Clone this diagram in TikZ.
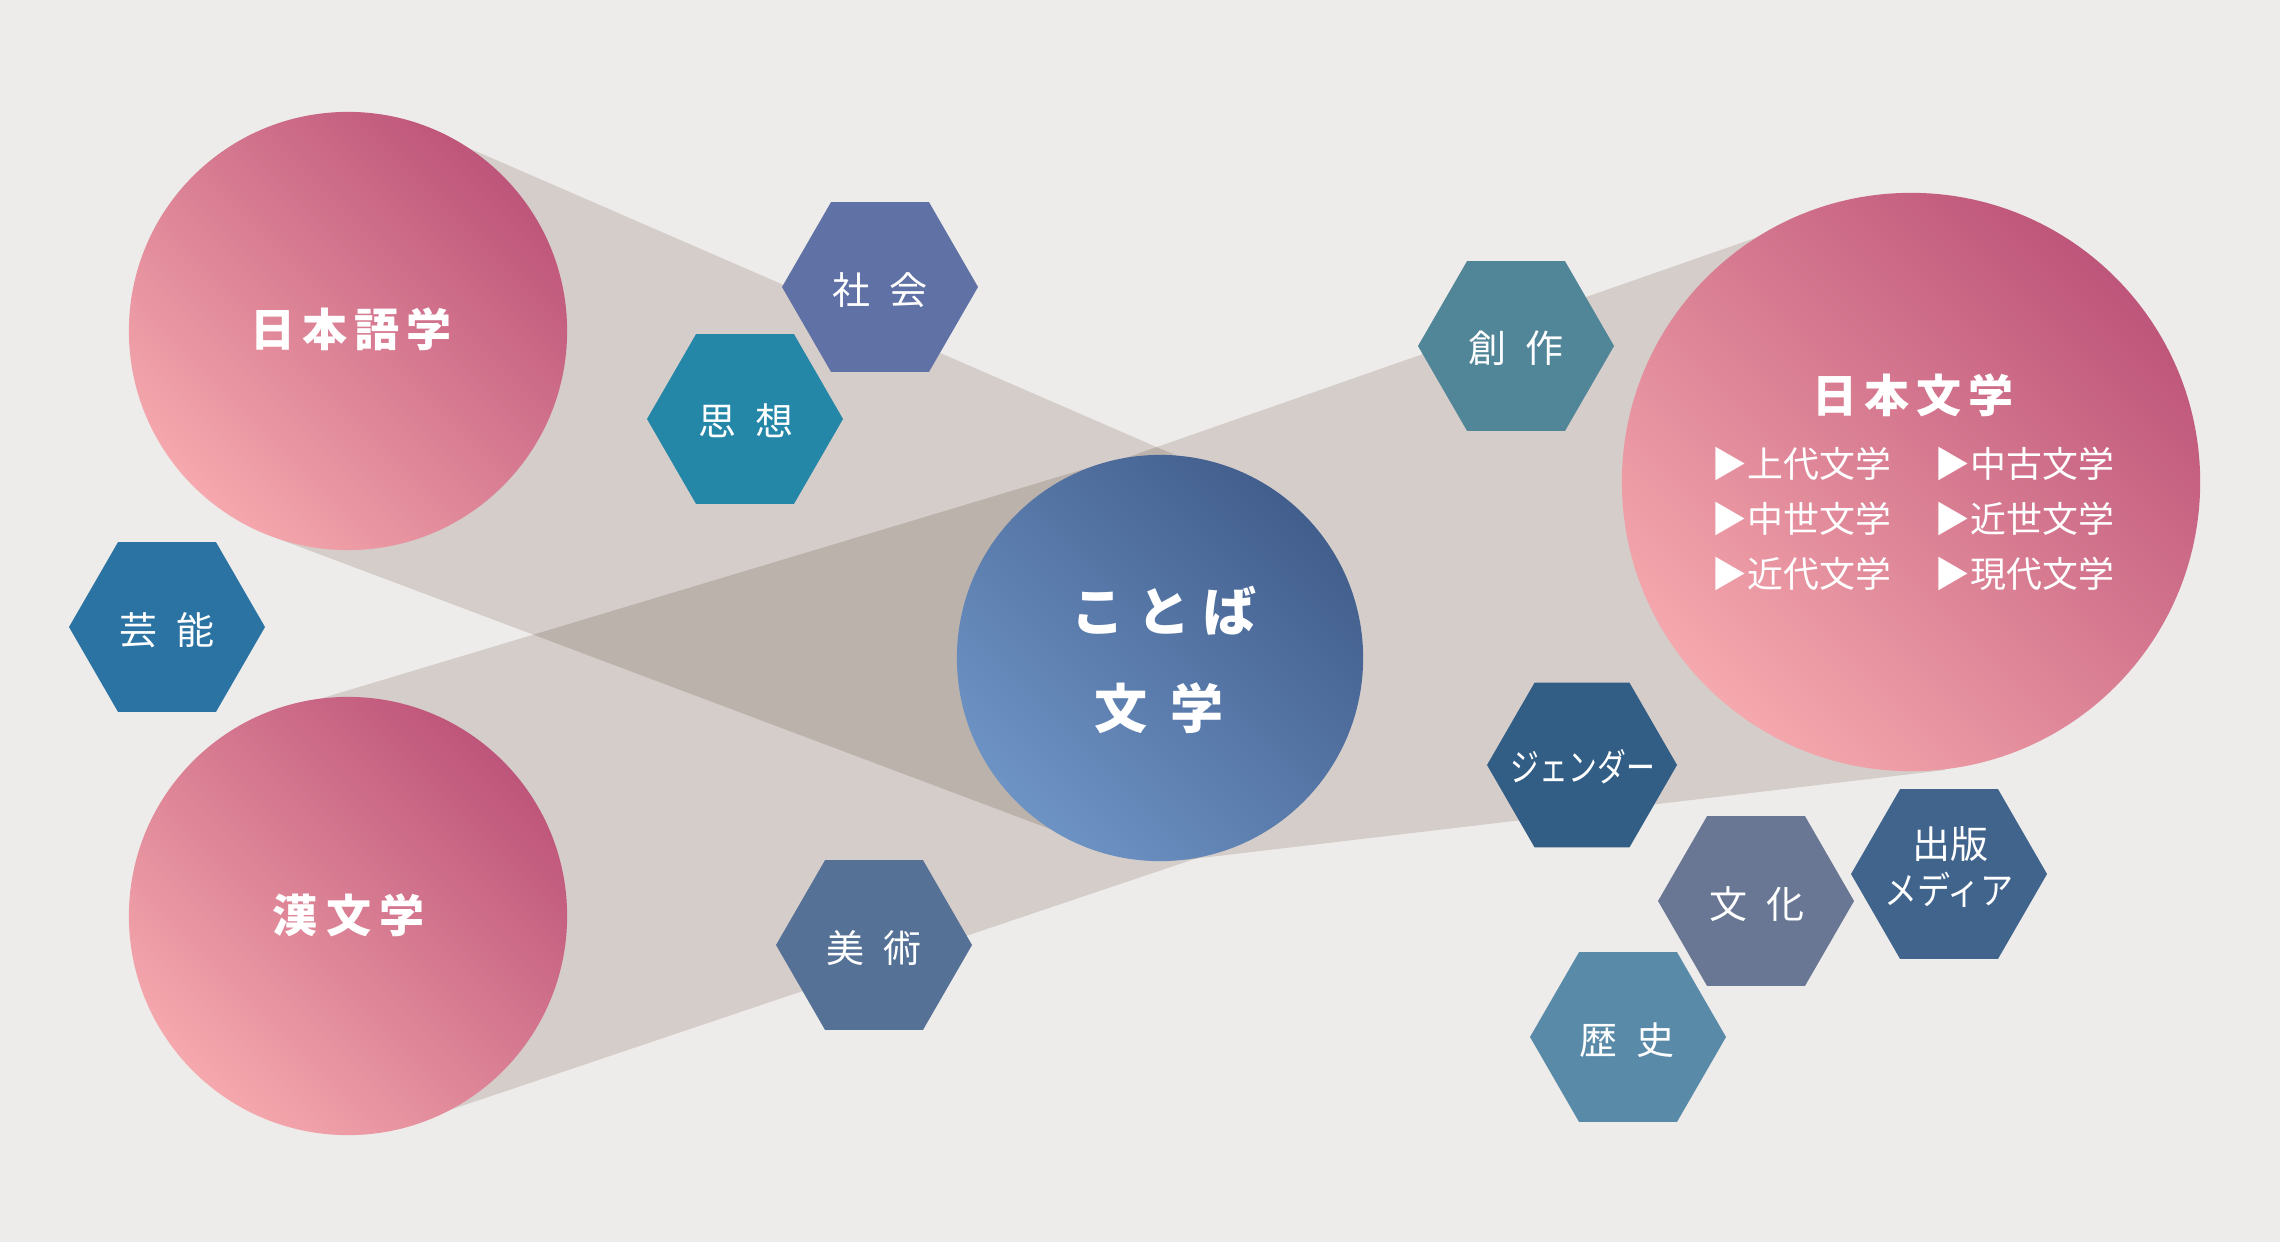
\documentclass[tikz,border=0pt]{standalone}
\usepackage{fontspec}
\setmainfont{Noto Sans CJK JP}
\definecolor{bgc}{HTML}{EDECEA}
\definecolor{beamc}{HTML}{D5CDC9}
\definecolor{ovlc}{HTML}{BBB2AC}
\definecolor{pinkL}{HTML}{F5A8AD}
\definecolor{pinkD}{HTML}{BE557A}
\definecolor{blueL}{HTML}{6D93C4}
\definecolor{blueD}{HTML}{425E8D}
\definecolor{hShakai}{HTML}{6071A5}
\definecolor{hShisou}{HTML}{2587A8}
\definecolor{hGeinou}{HTML}{2B73A3}
\definecolor{hBijutsu}{HTML}{557196}
\definecolor{hSousaku}{HTML}{518598}
\definecolor{hGender}{HTML}{325E86}
\definecolor{hBunka}{HTML}{697795}
\definecolor{hShuppan}{HTML}{41648C}
\definecolor{hRekishi}{HTML}{598AA7}
\newcommand\hexfill[4]{\fill[#4] (#1,#2) ++(#3,0) -- ++(-0.5*#3,0.866*#3) -- ++(-#3,0) -- ++(-0.5*#3,-0.866*#3) -- ++(0.5*#3,-0.866*#3) -- ++(#3,0) -- cycle;}
\newcommand\tk{\hspace{0.07cm}}
\tikzset{
  pinkball/.style={circle, inner sep=0pt, top color=pinkD, bottom color=pinkL, shading angle=-45},
  blueball/.style={circle, inner sep=0pt, top color=blueD, bottom color=blueL, shading angle=-45},
  balltext/.style={text=white, inner sep=0pt, font=\bfseries\fontsize{12.8pt}{15pt}\selectfont},
  kotoba/.style={text=white, inner sep=0pt, font=\bfseries\fontsize{15.1pt}{18pt}\selectfont},
  hexlbl/.style={text=white, inner sep=0pt, font=\fontsize{10.8pt}{13pt}\selectfont},
  listitem/.style={text=white, inner sep=0pt, anchor=west, font=\fontsize{10.2pt}{12pt}\selectfont}
}
\begin{document}
\begin{tikzpicture}[x=0.01cm,y=-0.01cm]
\useasboundingbox (0,0) rectangle (2280,1242);
\fill[bgc] (0,0) rectangle (2280,1242);
% beams
\def\beamA{(434,133) -- (1237,482) -- (1160,658) -- (1090,844) -- (271,536) -- (348,331) -- cycle}
\def\beamB{(286,709) -- (1101,464) -- (1160,658) -- (1224,849) -- (417,1121) -- (348,916) -- cycle}
\def\beamC{(1094,469) -- (1818,216) -- (1911,482) -- (1945,770) -- (1184,860) -- (1160,658) -- cycle}
\fill[beamc] \beamA;
\fill[beamc] \beamB;
\fill[beamc] \beamC;
\begin{scope}
  \clip \beamA;
  \fill[ovlc] \beamB;
  \fill[ovlc] \beamC;
\end{scope}
\begin{scope}
  \clip \beamB;
  \fill[ovlc] \beamC;
\end{scope}
% circles
\node[pinkball, minimum size=4.38cm] (nihongo) at (348,331) {};
\node[pinkball, minimum size=4.38cm] (kanbun) at (348,916) {};
\node[blueball, minimum size=4.06cm] (kotobaball) at (1160,658) {};
\node[pinkball, minimum size=5.78cm] (nihonbun) at (1911,482) {};
\node[balltext] (tNihongo) at (351,329) {日\tk 本\tk 語\tk 学};
\node[balltext] (tKanbun) at (349,915) {漢\hspace{0.085cm}文\hspace{0.085cm}学};
\node[balltext] (tNihonbun) at (1913,395) {日\tk 本\tk 文\tk 学};
\node[kotoba] (tKotoba) at (1164,611) {こ\hspace{0.13cm}と\hspace{0.13cm}ば};
\node[kotoba] (tBungaku) at (1159,708) {文\hspace{0.23cm}学};
% list
\node[listitem] (l1) at (1711,464) {▶上代文学};
\node[listitem] (l2) at (1934,464) {▶中古文学};
\node[listitem] (l3) at (1711,519) {▶中世文学};
\node[listitem] (l4) at (1934,519) {▶近世文学};
\node[listitem] (l5) at (1711,574) {▶近代文学};
\node[listitem] (l6) at (1934,574) {▶現代文学};
% hexagons
\hexfill{880}{287}{98}{hShakai}
\hexfill{745}{419}{98}{hShisou}
\hexfill{167}{627}{98}{hGeinou}
\hexfill{874}{945}{98}{hBijutsu}
\hexfill{1516}{346}{98}{hSousaku}
\hexfill{1582}{765}{95}{hGender}
\hexfill{1756}{901}{98}{hBunka}
\hexfill{1949}{874}{98}{hShuppan}
\hexfill{1628}{1037}{98}{hRekishi}
\node[hexlbl] (tShakai) at (880,290) {社\hspace{0.19cm}会};
\node[hexlbl] (tShisou) at (746,421) {思\hspace{0.19cm}想};
\node[hexlbl] (tGeinou) at (167,630) {芸\hspace{0.19cm}能};
\node[hexlbl] (tBijutsu) at (874,948) {美\hspace{0.19cm}術};
\node[hexlbl] (tSousaku) at (1516,348) {創\hspace{0.19cm}作};
\node[hexlbl] (tGender) at (1583,767) {\scalebox{0.76}[1]{ジェンダー}};
\node[hexlbl] (tBunka) at (1757,904) {文\hspace{0.19cm}化};
\node[hexlbl] (tShuppan) at (1950,844) {出版};
\node[hexlbl] (tMedia) at (1949,890) {\scalebox{0.87}[1]{メディア}};
\node[hexlbl] (tRekishi) at (1627,1040) {歴\hspace{0.19cm}史};
\end{tikzpicture}
\end{document}
